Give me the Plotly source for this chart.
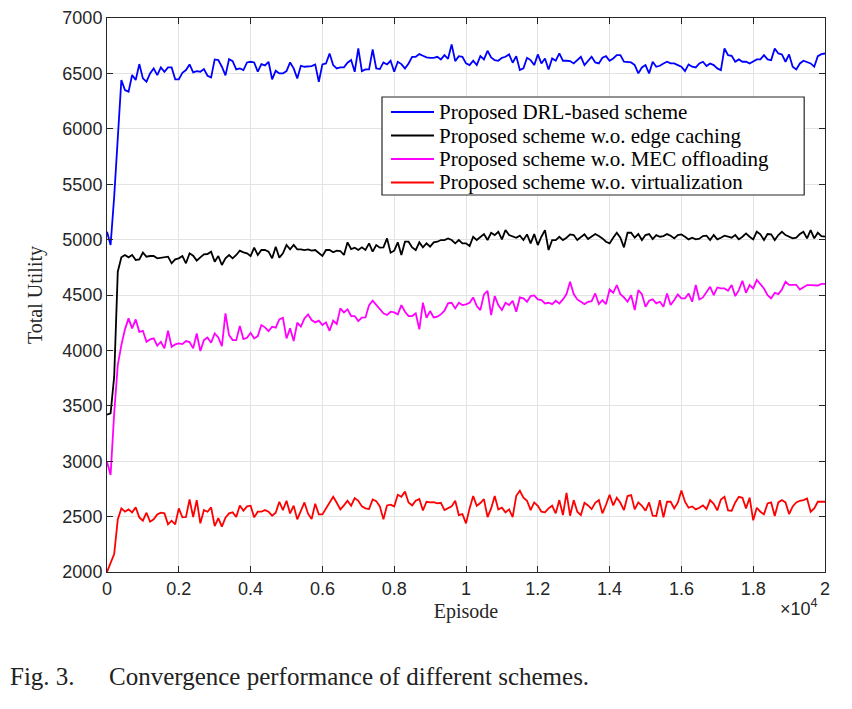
import plotly.graph_objects as go

# episodes, one sample every 100
episodes = list(range(0, 20001, 100))

drl = [5071, 4951, 5387, 5929, 6440, 6350, 6335, 6485, 6440, 6584,
       6455, 6425, 6500, 6545, 6485, 6554, 6515, 6554, 6554, 6446,
       6446, 6506, 6530, 6581, 6509, 6521, 6515, 6539, 6479, 6464,
       6626, 6620, 6560, 6482, 6629, 6611, 6536, 6545, 6530, 6599,
       6605, 6599, 6515, 6584, 6572, 6605, 6446, 6524, 6500, 6500,
       6521, 6599, 6545, 6455, 6569, 6560, 6560, 6566, 6581, 6425,
       6581, 6590, 6680, 6575, 6545, 6554, 6554, 6596, 6620, 6515,
       6725, 6521, 6536, 6536, 6716, 6545, 6539, 6599, 6581, 6614,
       6515, 6605, 6584, 6545, 6590, 6650, 6650, 6674, 6659, 6644,
       6641, 6641, 6650, 6626, 6665, 6632, 6762, 6611, 6656, 6650,
       6590, 6575, 6614, 6575, 6656, 6626, 6704, 6644, 6620, 6614,
       6641, 6650, 6671, 6596, 6656, 6530, 6545, 6641, 6620, 6575,
       6671, 6590, 6635, 6536, 6635, 6614, 6680, 6614, 6614, 6611,
       6590, 6620, 6650, 6575, 6614, 6650, 6599, 6590, 6641, 6656,
       6614, 6635, 6665, 6665, 6605, 6599, 6599, 6575, 6500, 6554,
       6575, 6500, 6605, 6560, 6569, 6590, 6605, 6590, 6590, 6575,
       6560, 6521, 6581, 6560, 6554, 6590, 6605, 6566, 6590, 6575,
       6545, 6530, 6725, 6665, 6659, 6605, 6626, 6605, 6605, 6590,
       6605, 6626, 6626, 6665, 6626, 6620, 6725, 6680, 6671, 6605,
       6671, 6560, 6536, 6590, 6614, 6605, 6590, 6560, 6656, 6674,
       6680]

no_caching = [3420, 3432, 3763, 4710, 4840, 4861, 4840, 4861, 4816, 4822,
              4882, 4846, 4852, 4852, 4831, 4837, 4840, 4846, 4786, 4822,
              4831, 4852, 4786, 4876, 4855, 4810, 4840, 4867, 4870, 4891,
              4801, 4852, 4771, 4831, 4861, 4831, 4861, 4900, 4885, 4876,
              4852, 4927, 4861, 4906, 4906, 4891, 4831, 4936, 4837, 4876,
              4951, 4912, 4951, 4912, 4912, 4906, 4912, 4900, 4906, 4876,
              4852, 4906, 4906, 4885, 4900, 4897, 4861, 4975, 4915, 4927,
              4906, 4930, 4906, 4966, 4891, 4951, 4927, 4930, 5011, 4882,
              4900, 4975, 4861, 4981, 4981, 4930, 4906, 4975, 4930, 4966,
              4936, 4975, 4981, 4996, 4996, 5011, 4996, 4966, 4996, 4966,
              4966, 4942, 5026, 4996, 5026, 5050, 4996, 5062, 5041, 5071,
              5002, 5086, 5041, 5026, 5017, 5035, 4996, 5047, 4966, 5050,
              4951, 5026, 5086, 4906, 4996, 4996, 5026, 4996, 5017, 5047,
              5041, 4996, 5026, 5047, 5005, 5026, 5050, 5032, 5011, 4981,
              4966, 5017, 5062, 5017, 4930, 5062, 5062, 5017, 5050, 4996,
              5041, 5050, 5005, 5041, 5026, 5032, 5050, 5035, 5011, 5041,
              5047, 5026, 5002, 5017, 5002, 5008, 5032, 5035, 4996, 5041,
              5002, 5017, 5035, 5026, 5017, 5041, 5002, 5026, 5056, 5026,
              5002, 5071, 5047, 4996, 5050, 5047, 4996, 5041, 5071, 5041,
              5026, 5011, 5017, 5050, 5071, 5011, 5086, 5011, 5062, 5032,
              5026]

no_mec = [2995, 2875, 3431, 3868, 4048, 4190, 4289, 4199, 4280, 4168,
          4177, 4078, 4099, 4108, 4042, 4078, 4018, 4177, 4033, 4054,
          4063, 4057, 4084, 4075, 4018, 4153, 3994, 4093, 4117, 4069,
          4153, 4117, 4039, 4334, 4138, 4093, 4093, 4220, 4102, 4114,
          4159, 4108, 4129, 4229, 4208, 4174, 4214, 4205, 4280, 4295,
          4108, 4199, 4084, 4250, 4214, 4289, 4325, 4274, 4253, 4268,
          4229, 4253, 4177, 4268, 4238, 4379, 4343, 4370, 4310, 4310,
          4265, 4295, 4298, 4409, 4448, 4409, 4364, 4334, 4319, 4349,
          4343, 4325, 4409, 4349, 4310, 4310, 4334, 4190, 4430, 4295,
          4355, 4298, 4304, 4325, 4358, 4424, 4430, 4379, 4430, 4409,
          4415, 4430, 4478, 4400, 4364, 4505, 4538, 4319, 4490, 4409,
          4364, 4430, 4409, 4448, 4349, 4478, 4469, 4439, 4490, 4496,
          4460, 4454, 4424, 4430, 4418, 4448, 4424, 4460, 4508, 4620,
          4508, 4460, 4439, 4418, 4439, 4445, 4514, 4418, 4454, 4418,
          4550, 4520, 4590, 4508, 4478, 4439, 4499, 4364, 4544, 4508,
          4394, 4448, 4460, 4424, 4439, 4394, 4514, 4409, 4454, 4505,
          4469, 4469, 4514, 4439, 4590, 4460, 4478, 4529, 4574, 4499,
          4568, 4559, 4559, 4538, 4590, 4490, 4544, 4629, 4520, 4590,
          4559, 4635, 4592, 4559, 4499, 4469, 4520, 4508, 4550, 4620,
          4592, 4592, 4592, 4550, 4574, 4590, 4590, 4590, 4586, 4600,
          4600]

no_virt = [2000, 2084, 2162, 2475, 2574, 2544, 2565, 2538, 2583, 2493,
           2463, 2535, 2454, 2475, 2520, 2535, 2529, 2430, 2463, 2430,
           2574, 2493, 2496, 2655, 2496, 2649, 2439, 2559, 2544, 2583,
           2415, 2487, 2409, 2490, 2529, 2538, 2496, 2601, 2553, 2592,
           2598, 2493, 2544, 2544, 2559, 2544, 2508, 2535, 2634, 2559,
           2643, 2529, 2598, 2475, 2556, 2628, 2526, 2478, 2616, 2520,
           2520, 2574, 2616, 2679, 2625, 2565, 2601, 2643, 2598, 2667,
           2643, 2592, 2574, 2568, 2655, 2640, 2592, 2475, 2601, 2607,
           2592, 2697, 2679, 2727, 2628, 2601, 2643, 2658, 2556, 2634,
           2628, 2631, 2619, 2625, 2559, 2574, 2592, 2643, 2514, 2523,
           2439, 2574, 2685, 2598, 2622, 2658, 2496, 2574, 2685, 2565,
           2580, 2538, 2565, 2496, 2688, 2733, 2670, 2643, 2559, 2628,
           2598, 2544, 2538, 2574, 2598, 2529, 2649, 2514, 2715, 2508,
           2649, 2544, 2514, 2625, 2601, 2568, 2625, 2649, 2529, 2607,
           2697, 2601, 2670, 2625, 2559, 2685, 2694, 2565, 2628, 2598,
           2553, 2628, 2508, 2505, 2649, 2493, 2634, 2634, 2574, 2625,
           2736, 2634, 2580, 2592, 2565, 2580, 2601, 2568, 2649, 2616,
           2556, 2655, 2679, 2556, 2553, 2628, 2679, 2670, 2574, 2670,
           2466, 2580, 2544, 2520, 2619, 2628, 2505, 2628, 2649, 2628,
           2523, 2592, 2628, 2643, 2649, 2664, 2544, 2574, 2634, 2634,
           2634]

names = ["Proposed DRL-based scheme",
         "Proposed scheme w.o. edge caching",
         "Proposed scheme w.o. MEC offloading",
         "Proposed scheme w.o. virtualization"]
colors = ["#0000ff", "#000000", "#ff00ff", "#ff0000"]

xtick_vals = [0, 2000, 4000, 6000, 8000, 10000, 12000, 14000, 16000, 18000, 20000]
xtick_text = ["0", "0.2", "0.4", "0.6", "0.8", "1", "1.2", "1.4", "1.6", "1.8", "2"]
ytick_vals = [2000, 2500, 3000, 3500, 4000, 4500, 5000, 5500, 6000, 6500, 7000]

serif = "Liberation Serif"
sans = "Liberation Sans"
axcol = "#262626"

fig = go.Figure()
for ys, nm, c in zip([drl, no_caching, no_mec, no_virt], names, colors):
    fig.add_trace(go.Scatter(x=episodes, y=ys, mode="lines", name=nm,
                             line=dict(color=c, width=1.8)))

axis_common = dict(
    showline=True, linecolor=axcol, linewidth=1, mirror="allticks",
    ticks="inside", ticklen=6, tickcolor=axcol, tickwidth=1,
    showgrid=True, gridcolor="#e3e3e3", gridwidth=1, zeroline=False,
    tickfont=dict(family=sans, size=18, color=axcol),
    automargin=False,
)

fig.update_xaxes(range=[0, 20000], tickvals=xtick_vals, ticktext=xtick_text,
                 title=dict(text="Episode", font=dict(family=serif, size=20, color=axcol),
                            standoff=6),
                 **axis_common)
fig.update_yaxes(range=[2000, 7000], tickvals=ytick_vals,
                 title=dict(text="Total Utility", font=dict(family=serif, size=20, color=axcol),
                            standoff=14),
                 **axis_common)

# MATLAB-style legend box, drawn by hand so the row spacing matches
fig.add_shape(type="rect", xref="paper", yref="paper",
              x0=0.383, x1=0.971, y0=0.6805, y1=0.8574,
              line=dict(color=axcol, width=1.2), fillcolor="white", layer="above")
row_y = [0.8303, 0.7879, 0.7455, 0.7031]
for nm, c, yy in zip(names, colors, row_y):
    fig.add_shape(type="line", xref="paper", yref="paper",
                  x0=0.3955, x1=0.4554, y0=yy, y1=yy,
                  line=dict(color=c, width=1.8), layer="above")
    fig.add_annotation(text=nm, xref="paper", yref="paper", x=0.459, y=yy,
                       xanchor="left", yanchor="middle", showarrow=False,
                       font=dict(family=serif, size=21, color="black"))

fig.add_annotation(text="×10<sup>4</sup>", xref="paper", yref="paper",
                   x=0.935, y=-0.040, xanchor="left", yanchor="top", showarrow=False,
                   font=dict(family=sans, size=18, color=axcol))
fig.add_annotation(text="Fig. 3.", xref="paper", yref="paper",
                   x=-0.138, y=-0.188, xanchor="left", yanchor="middle", showarrow=False,
                   font=dict(family=serif, size=25, color="#222222"))
fig.add_annotation(text="Convergence performance of different schemes.", xref="paper", yref="paper",
                   x=0.0, y=-0.188, xanchor="left", yanchor="middle", showarrow=False,
                   font=dict(family=serif, size=25, color="#222222"))

fig.update_layout(
    width=852, height=709,
    margin=dict(l=99, r=35, t=10, b=145),
    paper_bgcolor="white", plot_bgcolor="white",
    showlegend=False,
)

fig.write_html("out.html")
